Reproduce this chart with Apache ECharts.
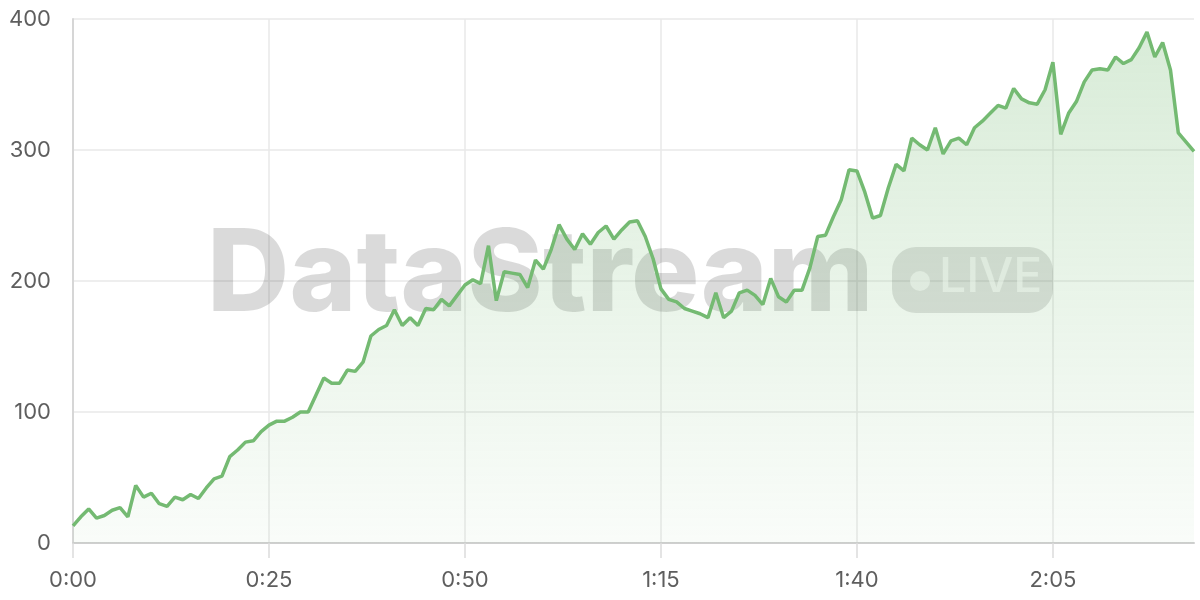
<!DOCTYPE html>
<html>
<head>
<meta charset="utf-8">
<script src="https://cdn.jsdelivr.net/npm/echarts@6/dist/echarts.min.js"></script>
<style>
html,body{margin:0;padding:0;background:#fff;}
#chart{width:1200px;height:600px;}
</style>
</head>
<body>
<div id="chart"></div>
<script>
// minutes since start, one point per minute (0:00 .. 2:23)
const minuteCount = 144;
const categories = [];
for (let i = 0; i < minuteCount; i++) {
  categories.push(Math.floor(i / 60) + ':' + String(i % 60).padStart(2, '0'));
}
const values = [
  13, 20, 26, 19, 21, 25, 27, 20, 44, 35,
  38, 30, 28, 35, 33, 37, 34, 42, 49, 51,
  66, 71, 77, 78, 85, 90, 93, 93, 96, 100,
  100, 113, 126, 122, 122, 132, 131, 138, 158, 163,
  166, 178, 166, 172, 166, 179, 178, 186, 181, 189,
  197, 201, 198, 227, 185, 207, 206, 205, 195, 216,
  209, 224, 243, 232, 224, 236, 228, 237, 242, 232,
  239, 245, 246, 234, 217, 194, 186, 184, 179, 177,
  175, 172, 191, 172, 177, 191, 193, 189, 182, 202,
  188, 184, 193, 193, 210, 234, 235, 249, 262, 285,
  284, 268, 248, 250, 271, 289, 284, 309, 304, 300,
  317, 297, 307, 309, 304, 317, 322, 328, 334, 332,
  347, 339, 336, 335, 346, 367, 312, 328, 337, 352,
  361, 362, 361, 371, 366, 369, 378, 390, 371, 382,
  361, 313, 306, 299
];
const yTicks = [0, 100, 200, 300, 400];
const watermarkTitle = 'DataStream';
const watermarkBadge = 'LIVE';

const chart = echarts.init(document.getElementById('chart'), null, {renderer: 'canvas'});
const fontFamily = 'Inter, "Noto Sans", sans-serif';
chart.setOption({
  animation: false,
  grid: {left: 73, right: 6, top: 19, bottom: 57, containLabel: false},
  xAxis: {
    type: 'category',
    data: categories,
    boundaryGap: false,
    axisLine: {show: true, lineStyle: {color: '#cfcfcf', width: 2}},
    axisTick: {show: true, interval: 24, length: 15, lineStyle: {color: '#dcdcdc', width: 1.5}},
    axisLabel: {interval: 24, color: '#5e5e5e', fontSize: 22, fontFamily: fontFamily, margin: 26},
    splitLine: {show: true, interval: 24, lineStyle: {color: '#e8e8e8', width: 1.5}}
  },
  yAxis: {
    type: 'value',
    min: yTicks[0],
    max: yTicks[yTicks.length - 1],
    interval: 100,
    axisLine: {show: true, lineStyle: {color: '#d6d6d6', width: 2}},
    axisTick: {show: false},
    axisLabel: {color: '#5e5e5e', fontSize: 22, fontFamily: fontFamily, margin: 22},
    splitLine: {show: true, lineStyle: {color: '#e8e8e8', width: 1.5}}
  },
  graphic: [
    {
      type: 'text', z: 1, left: 207, top: 220,
      style: {text: watermarkTitle, fontSize: 114, fontWeight: 800, fontFamily: fontFamily, fill: 'rgba(0,0,0,0.145)'}
    },
    {
      type: 'rect', z: 1, shape: {x: 892, y: 247, width: 161, height: 66, r: 24},
      style: {fill: 'rgba(0,0,0,0.12)'}
    },
    {
      type: 'circle', z: 1, shape: {cx: 920, cy: 281, r: 10},
      style: {fill: 'rgba(255,255,255,0.62)'}
    },
    {
      type: 'text', z: 1, left: 939, top: 254,
      style: {text: watermarkBadge, fontSize: 48, fontWeight: 500, fontFamily: fontFamily, fill: 'rgba(255,255,255,0.62)'}
    }
  ],
  series: [{
    type: 'line',
    data: values,
    showSymbol: false,
    smooth: false,
    z: 2,
    lineStyle: {color: '#74ba72', width: 3.5},
    areaStyle: {
      color: new echarts.graphic.LinearGradient(0, 0, 0, 1, [
        {offset: 0, color: 'rgba(118,187,116,0.4)'},
        {offset: 1, color: 'rgba(118,187,116,0.06)'}
      ])
    }
  }]
});
</script>
</body>
</html>
